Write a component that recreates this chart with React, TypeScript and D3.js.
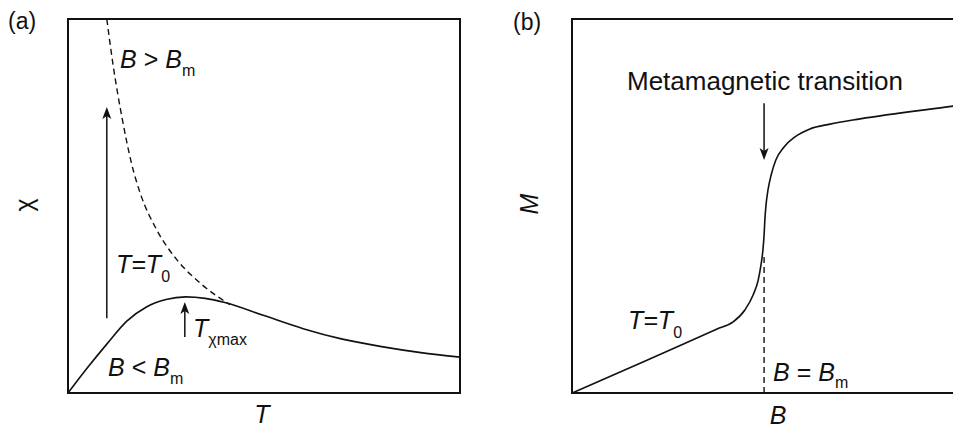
import React from "react";
import * as d3 from "d3";

// Panel (a): susceptibility vs temperature
const chiTemps = [0, 0.5, 1.0, 1.5, 2.0, 2.5, 3.0, 3.5, 4.0, 5.0, 6.0, 7.0, 8.0, 9.0, 10];
const chiLowField = [0, 0.68, 1.32, 1.92, 2.3, 2.5, 2.57, 2.53, 2.42, 2.07, 1.72, 1.44, 1.24, 1.08, 0.96];
const curieTemps = [0.99, 1.15, 1.38, 1.63, 1.84, 2.27, 2.78, 3.37, 4.13];
const chiHighField = [10, 8.77, 7.35, 6.1, 5.35, 4.35, 3.56, 2.94, 2.36];

// Panel (b): magnetisation vs field
const fieldValues = [0, 1.81, 3.7, 4.11, 4.41, 4.62, 4.75, 4.82, 4.87, 4.9, 4.92, 4.95, 5.0, 5.08, 5.2, 5.41, 5.69, 6.07, 6.58, 7.35, 9.72, 10];
const magnetisation = [0, 0.83, 1.71, 1.9, 2.22, 2.62, 3.02, 3.42, 3.82, 4.22, 4.63, 5.03, 5.43, 5.83, 6.23, 6.58, 6.85, 7.06, 7.19, 7.33, 7.67, 7.71];
const criticalField = 4.9;
const criticalMarkTop = 3.7;

// Arrows (data units)
const fieldSweepArrow = { t: 0.99, from: 2.0, to: 7.65 };
const peakArrow = { t: 2.98, from: 1.5, to: 2.43 };
const transitionArrow = { b: 4.9, from: 7.75, to: 6.23 };

const W = 953;
const H = 431;
const PW = 392;
const PH = 374;
const TOP = 19;
const LEFT_A = 68;
const LEFT_B = 572;

const FONT = "'Liberation Sans', Arial, Helvetica, sans-serif";
const INK = "#111";

const x = d3.scaleLinear().domain([0, 10]).range([0, PW]);
const y = d3.scaleLinear().domain([0, 10]).range([PH, 0]);

const line = d3
  .line<[number, number]>()
  .x((d) => x(d[0]))
  .y((d) => y(d[1]))
  .curve(d3.curveMonotoneX);

const straight = d3
  .line<[number, number]>()
  .x((d) => x(d[0]))
  .y((d) => y(d[1]));

function zip(a: number[], b: number[]): [number, number][] {
  return a.map((v, i) => [v, b[i]] as [number, number]);
}

// Vertical arrow with a filled head at (x0, y1)
function Arrow({ x0, y0, y1 }: { x0: number; y0: number; y1: number }) {
  const dir = y1 < y0 ? -1 : 1;
  const len = 12;
  const half = 4.5;
  const back = y1 - dir * len;
  const notch = y1 - dir * (len - 3);
  const head = `M${x0},${y1} L${x0 + half},${back} L${x0},${notch} L${x0 - half},${back} Z`;
  return (
    <g>
      <line x1={x0} x2={x0} y1={y0} y2={notch} stroke={INK} strokeWidth={1.5} />
      <path d={head} fill={INK} />
    </g>
  );
}

function Sub({ base, sub, x0, y0, size = 25, subSize = 16, dy = 8 }: any) {
  return (
    <text x={x0} y={y0} fontFamily={FONT} fontSize={size} fill={INK}>
      <tspan fontStyle="italic">{base}</tspan>
      <tspan fontSize={subSize} dy={dy}>{sub}</tspan>
    </text>
  );
}

export default function App() {
  const lowField = zip(chiTemps, chiLowField);
  const highField = zip(curieTemps, chiHighField);
  const mCurve = zip(fieldValues, magnetisation);

  return (
    <svg
      width={W}
      height={H}
      viewBox={`0 0 ${W} ${H}`}
      style={{ position: "absolute", left: 0, top: 0, background: "#fff" }}
    >
      <defs>
        <clipPath id="page">
          <rect x={0} y={0} width={W} height={H} />
        </clipPath>
      </defs>

      {/* Panel (a) */}
      <text x={8} y={29} fontFamily={FONT} fontSize={23} fill={INK}>(a)</text>
      <g transform={`translate(${LEFT_A},${TOP})`}>
        <path d={line(highField) || ""} fill="none" stroke={INK} strokeWidth={1.4} strokeDasharray="6,4" />
        <path d={line(lowField) || ""} fill="none" stroke={INK} strokeWidth={1.6} />
        <Arrow x0={x(fieldSweepArrow.t)} y0={y(fieldSweepArrow.from)} y1={y(fieldSweepArrow.to)} />
        <Arrow x0={x(peakArrow.t)} y0={y(peakArrow.from)} y1={y(peakArrow.to)} />
        <rect x={0} y={0} width={PW} height={PH} fill="none" stroke={INK} strokeWidth={2} />
      </g>
      <text x={120} y={68} fontFamily={FONT} fontSize={25} fill={INK}>
        <tspan fontStyle="italic">B</tspan>
        <tspan> &gt; </tspan>
        <tspan fontStyle="italic">B</tspan>
        <tspan fontSize={16} dy={8}>m</tspan>
      </text>
      <Sub base="T=T" sub="0" x0={116} y0={273} dy={9} />
      <text x={193} y={337} fontFamily={FONT} fontSize={25} fill={INK}>
        <tspan fontStyle="italic">T</tspan>
        <tspan fontSize={16} dy={8}>χmax</tspan>
      </text>
      <text x={108} y={376} fontFamily={FONT} fontSize={25} fill={INK}>
        <tspan fontStyle="italic">B</tspan>
        <tspan> &lt; </tspan>
        <tspan fontStyle="italic">B</tspan>
        <tspan fontSize={16} dy={8}>m</tspan>
      </text>
      <text x={LEFT_A + PW / 2 - 2} y={423} textAnchor="middle" fontFamily={FONT} fontSize={25} fontStyle="italic" fill={INK}>T</text>
      <text transform="translate(33,205) rotate(-90)" textAnchor="middle" fontFamily={FONT} fontSize={25} fill={INK}>χ</text>

      {/* Panel (b) */}
      <text x={513} y={30} fontFamily={FONT} fontSize={23} fill={INK}>(b)</text>
      <g clipPath="url(#page)">
        <g transform={`translate(${LEFT_B},${TOP})`}>
          <path
            d={straight([[criticalField, 0], [criticalField, criticalMarkTop]]) || ""}
            fill="none"
            stroke={INK}
            strokeWidth={1.4}
            strokeDasharray="6,4"
          />
          <path d={line(mCurve) || ""} fill="none" stroke={INK} strokeWidth={1.6} />
          <Arrow x0={x(transitionArrow.b)} y0={y(transitionArrow.from)} y1={y(transitionArrow.to)} />
          <rect x={0} y={0} width={PW} height={PH} fill="none" stroke={INK} strokeWidth={2} />
        </g>
      </g>
      <text x={765} y={90} textAnchor="middle" fontFamily={FONT} fontSize={26} fill={INK}>Metamagnetic transition</text>
      <Sub base="T=T" sub="0" x0={628} y0={329} dy={9} />
      <text x={773} y={381} fontFamily={FONT} fontSize={25} fill={INK}>
        <tspan fontStyle="italic">B</tspan>
        <tspan> = </tspan>
        <tspan fontStyle="italic">B</tspan>
        <tspan fontSize={16} dy={7}>m</tspan>
      </text>
      <text x={778} y={424} textAnchor="middle" fontFamily={FONT} fontSize={25} fontStyle="italic" fill={INK}>B</text>
      <text transform="translate(538,204) rotate(-90)" textAnchor="middle" fontFamily={FONT} fontSize={25} fontStyle="italic" fill={INK}>M</text>
    </svg>
  );
}
